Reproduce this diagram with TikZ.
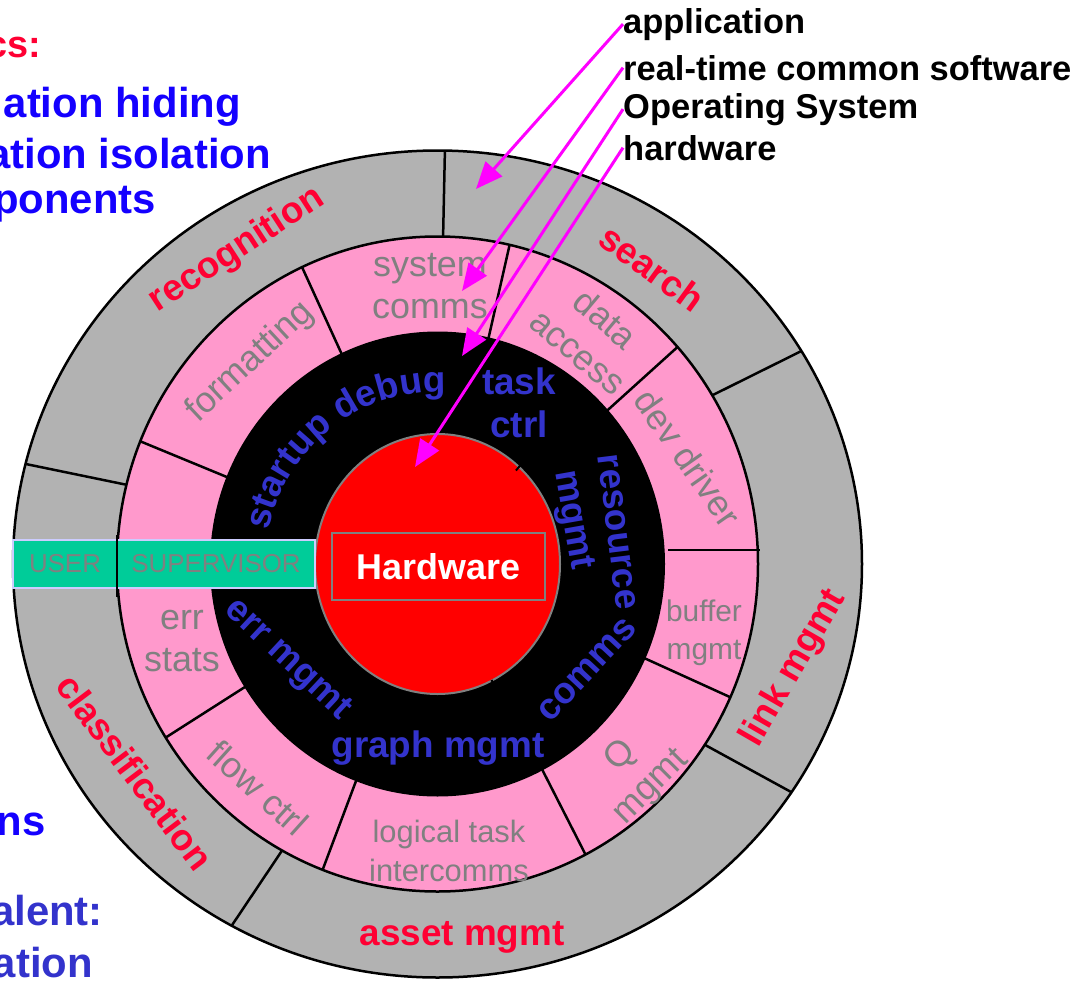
\documentclass[tikz,border=0pt]{standalone}
\usepackage{fontspec}
\setmainfont{Liberation Sans}
\usetikzlibrary{arrows.meta,decorations.text}
\definecolor{ringgray}{RGB}{178,178,178}
\definecolor{pinkc}{RGB}{255,153,204}
\definecolor{hwred}{RGB}{255,0,0}
\definecolor{greenbar}{RGB}{0,204,153}
\definecolor{lav}{RGB}{204,204,255}
\definecolor{txtred}{RGB}{255,0,51}
\definecolor{txtgray}{RGB}{128,128,128}
\definecolor{blueA}{RGB}{20,0,255}
\definecolor{blueB}{RGB}{51,51,204}
\definecolor{mag}{RGB}{255,0,255}
\begin{document}
\begin{tikzpicture}[x=1bp,y=-1bp,
  redlab/.style={font=\bfseries\fontsize{37}{40}\selectfont, text=txtred, inner sep=0},
  bluelab/.style={font=\bfseries\fontsize{37}{43}\selectfont, text=blueB, inner sep=0, align=center},
  pinklab/.style={font=\fontsize{36}{43}\selectfont, text=txtgray, inner sep=0, align=center},
  smallpink/.style={font=\fontsize{31}{39}\selectfont, text=txtgray, inner sep=0, align=center},
  toplab/.style={font=\bfseries\fontsize{34.6}{40}\selectfont, anchor=base west, inner sep=0},
  sidelab/.style={font=\bfseries\fontsize{42}{48}\selectfont, anchor=base east, inner sep=0},
  barbox/.style={draw=lav, fill=greenbar, line width=2bp, font=\fontsize{26}{30}\selectfont, text=txtgray, minimum height=48bp, inner sep=0},
  arr/.style={draw=mag, line width=3bp, -{Triangle[length=27bp,width=22bp]}},
  rim/.style={draw=black, line width=2.5bp},
  divider/.style={draw=black, line width=2.5bp},
]
\useasboundingbox (0,0) rectangle (1081,981);

% rings
\begin{scope}[shift={(437.5,564)}, y=1bp]
  \path[fill=ringgray, rim] (0,0) ellipse [x radius=424.5, y radius=413.5];
  \path[fill=pinkc, rim] (0,0) ellipse [x radius=320.5, y radius=327.5];
  \path[fill=black] (0,0) ellipse [x radius=227.5, y radius=232.5];
  \foreach \a in {89,31,-33.5,-119,166}
    \draw[divider] (\a:320.5 and 327.5) -- (\a:424.5 and 413.5);
  \foreach \a in {77,115,41.5,-24,-62.5,-111,-148,158}
    \draw[divider] (\a:226 and 231) -- (\a:320.5 and 327.5);
  \draw[divider] (230.5,14) -- (322.5,14);
  \path[fill=hwred, draw=txtgray, line width=2bp] (0,0) ellipse [x radius=122.5, y radius=130];
  \draw[divider, line width=2bp] (50:122) -- (50:132);
  \draw[divider, line width=2bp] (-65:128) -- (-65:138);
  \path[decorate, decoration={text along path,
      text={|\bfseries\fontsize{37}{40}\selectfont|startup debug},
      text color=blueB, text align=center}]
    (180:172) arc [start angle=180, end angle=76, radius=172];
\end{scope}

% user / supervisor bar
\node[barbox, minimum width=104bp] (user) at (65,564) {USER};
\node[barbox, minimum width=198bp] (sup) at (216,564) {SUPERVISOR};
\draw[divider] (117,535) -- (117,597);

% hardware
\node[draw=txtgray, line width=2bp, minimum width=213bp, minimum height=67bp,
      inner sep=0, text=white, font=\bfseries\fontsize{36}{40}\selectfont] (hw) at (438.5,566.5) {Hardware};

% outer ring labels
\node[redlab, rotate=33] (recog) at (237,250) {recognition};
\node[redlab, rotate=-36] (search) at (652,268) {search};
\node[redlab, rotate=60] (link) at (794,668) {link mgmt};
\node[redlab, rotate=-53] (class) at (135,772) {classification};
\node[redlab] (asset) at (462,937) {asset mgmt};

% pink ring labels
\node[pinklab] (sys) at (430,286) {system\\comms};
\node[pinklab, rotate=-40] (data) at (592,335) {data\\access};
\node[pinklab, rotate=-55] (dev) at (688,458) {dev driver};
\node[smallpink, font=\fontsize{30}{38}\selectfont] (buf) at (704,633) {buffer\\mgmt};
\node[pinklab, rotate=45] (q) at (636,772) {Q\\mgmt};
\node[smallpink] (log) at (449,851) {logical task\\intercomms};
\node[pinklab, rotate=-42] (flow) at (258,788) {flow ctrl};
\node[pinklab, font=\fontsize{36}{42}\selectfont] (errs) at (182,641) {err\\stats};
\node[pinklab, rotate=43] (fmt) at (250,362) {formatting};

% black ring labels
\node[bluelab] (task) at (519,403) {task\\ctrl};
\node[bluelab, rotate=-83] (res) at (617,532) {resource};
\node[bluelab, rotate=-80] (mg) at (572,520) {mgmt};
\node[bluelab, rotate=47] (comms) at (587,670) {comms};
\node[bluelab] (graph) at (438,748) {graph mgmt};
\node[bluelab, rotate=-43] (errm) at (287,660) {err mgmt};

% left cut-off texts
\node[sidelab, text=txtred, font=\bfseries\fontsize{38}{44}\selectfont] (cs) at (41,57) {cs:};
\node[sidelab, text=blueA] (l1) at (241,117) {ation hiding};
\node[sidelab, text=blueA] (l2) at (271,168) {ation isolation};
\node[sidelab, text=blueA] (l3) at (156,213) {ponents};
\node[sidelab, text=blueA] (l4) at (46,835) {ns};
\node[sidelab, text=blueB] (l5) at (103,925) {alent:};
\node[sidelab, text=blueB] (l6) at (93,977) {ation};

% top right labels and arrows
\node[toplab] (app) at (623,33) {application};
\node[toplab] (rt) at (623,80) {real-time common software};
\node[toplab] (os) at (623,118) {Operating System};
\node[toplab] (hwl) at (623,160) {hardware};
\coordinate (t1) at (476,189);
\coordinate (t2) at (462,291);
\coordinate (t3) at (462,356);
\coordinate (t4) at (415,467);
\draw[arr] (app.west) -- (t1);
\draw[arr] (rt.west) -- (t2);
\draw[arr] (os.west) -- (t3);
\draw[arr] (hwl.west) -- (t4);
\end{tikzpicture}
\end{document}
